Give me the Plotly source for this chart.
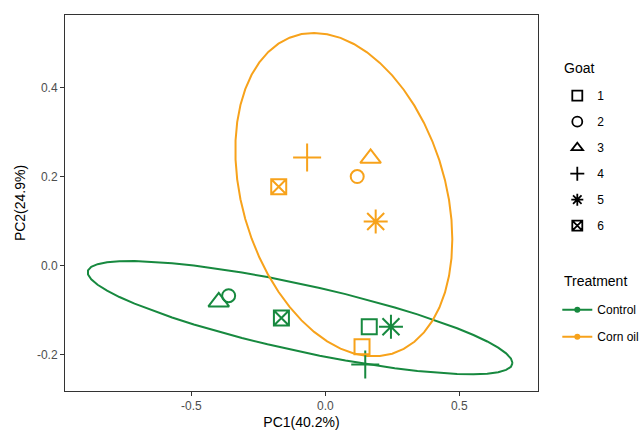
import numpy as np
import plotly.graph_objects as go

# ---- data ----
goats = ["1", "2", "3", "4", "5", "6"]
control_pc1 = [0.164, -0.361, -0.398, 0.149, 0.245, -0.164]
control_pc2 = [-0.138, -0.068, -0.082, -0.223, -0.138, -0.118]
cornoil_pc1 = [0.137, 0.119, 0.169, -0.068, 0.188, -0.174]
cornoil_pc2 = [-0.183, 0.200, 0.241, 0.243, 0.099, 0.177]
x_ticks = [-0.5, 0.0, 0.5]
y_ticks = [-0.2, 0.0, 0.2, 0.4]
ellipse_level = 0.932

GREEN = "#17893F"
ORANGE = "#F7A21B"
symbols = ["square-open", "circle-open", "triangle-up-open", "cross-thin-open",
           "asterisk-open", "square-x-open"]
sizes = [15, 13, 18, 20, 20, 15]


def cov_trob(x, nu=5, maxit=25, tol=0.01):
    """Robust multivariate-t covariance (as MASS::cov.trob, used by stat_ellipse)."""
    n, p = x.shape
    wt = np.ones(n)
    loc = x.mean(axis=0)
    w = np.sqrt(wt)
    for _ in range(maxit):
        w0 = w
        X = x - loc
        A = np.sqrt(w / w.sum())[:, None] * X
        _, d, vt = np.linalg.svd(A, full_matrices=False)
        wX = X @ vt.T @ np.diag(1 / d)
        Q = (wX ** 2).sum(axis=1)
        w = (wt * (nu + p)) / (nu + Q)
        loc = (w[:, None] * x).sum(axis=0) / w.sum()
        if np.all(np.abs(w - w0) < tol):
            break
    cov = (np.sqrt(w)[:, None] * X).T @ (np.sqrt(w)[:, None] * X) / wt.sum()
    return cov, loc


def ellipse(px, py, level, segments=51):
    x = np.column_stack([px, py])
    n = len(px)
    cov, center = cov_trob(x)
    R = np.linalg.cholesky(cov).T
    dfd = n - 1
    fq = dfd / 2 * ((1 - level) ** (-2 / dfd) - 1)  # F(2, dfd) quantile
    radius = np.sqrt(2 * fq)
    ang = np.linspace(0, 2 * np.pi, segments + 1)
    uc = np.column_stack([np.cos(ang), np.sin(ang)])
    e = center + radius * (uc @ R)
    return e[:, 0], e[:, 1]


fig = go.Figure()

for px, py, col in [(control_pc1, control_pc2, GREEN), (cornoil_pc1, cornoil_pc2, ORANGE)]:
    ex, ey = ellipse(np.array(px), np.array(py), ellipse_level)
    fig.add_trace(go.Scatter(x=ex, y=ey, mode="lines", line=dict(color=col, width=2),
                             showlegend=False, hoverinfo="skip"))

for px, py, col in [(control_pc1, control_pc2, GREEN), (cornoil_pc1, cornoil_pc2, ORANGE)]:
    fig.add_trace(go.Scatter(x=px, y=py, mode="markers", showlegend=False,
                             marker=dict(symbol=symbols, size=sizes, color=col, opacity=1,
                                         line=dict(color=col, width=2))))

for i, g in enumerate(goats):
    fig.add_trace(go.Scatter(x=[None], y=[None], mode="markers", name=g,
                             legend="legend", legendgroup="g" + g,
                             marker=dict(symbol=symbols[i], size=10, color="black",
                                         line=dict(color="black", width=1.8))))
for name, col in [("Control", GREEN), ("Corn oil", ORANGE)]:
    fig.add_trace(go.Scatter(x=[None], y=[None], mode="lines+markers", name=name,
                             legend="legend2", legendgroup=name,
                             line=dict(color=col, width=2),
                             marker=dict(symbol="circle", size=6, color=col)))

axis_common = dict(showgrid=False, zeroline=False, showline=True, mirror=True,
                   linecolor="#333333", linewidth=1, ticks="outside", ticklen=4,
                   tickcolor="#333333", tickfont=dict(size=12, color="#4D4D4D"),
                   automargin=False)

fig.update_layout(
    width=642, height=432,
    margin=dict(l=64.5, r=104.3, t=14.7, b=40.5, autoexpand=False),
    plot_bgcolor="white", paper_bgcolor="white",
    font=dict(family="Liberation Sans, Arial, sans-serif", color="black"),
    xaxis=dict(range=[-0.972, 0.794], tickvals=x_ticks,
               ticktext=[f"{v:.1f}" for v in x_ticks],
               title=dict(text="PC1(40.2%)", font=dict(size=14), standoff=4), **axis_common),
    yaxis=dict(range=[-0.2824, 0.5634], tickvals=y_ticks,
               ticktext=[f"{v:.1f}" for v in y_ticks],
               title=dict(text="PC2(24.9%)", font=dict(size=14), standoff=8), **axis_common),
    legend=dict(x=1.0408, y=0.824, xanchor="left", yanchor="top",
                font=dict(size=12), traceorder="grouped", tracegroupgap=7,
                itemwidth=30, bgcolor="rgba(0,0,0,0)"),
    legend2=dict(x=1.0408, y=0.2547, xanchor="left", yanchor="top",
                 font=dict(size=12), traceorder="grouped", tracegroupgap=8,
                 itemwidth=30, bgcolor="rgba(0,0,0,0)"),
    annotations=[
        dict(text="Goat", xref="paper", yref="paper", x=1.0513, y=0.8585,
             xanchor="left", yanchor="middle", showarrow=False, font=dict(size=14)),
        dict(text="Treatment", xref="paper", yref="paper", x=1.0513, y=0.2933,
             xanchor="left", yanchor="middle", showarrow=False, font=dict(size=14)),
    ],
)

fig.write_html("out.html", config={"displayModeBar": False},
               post_script="document.body.style.margin='0';document.body.style.padding='0';")
